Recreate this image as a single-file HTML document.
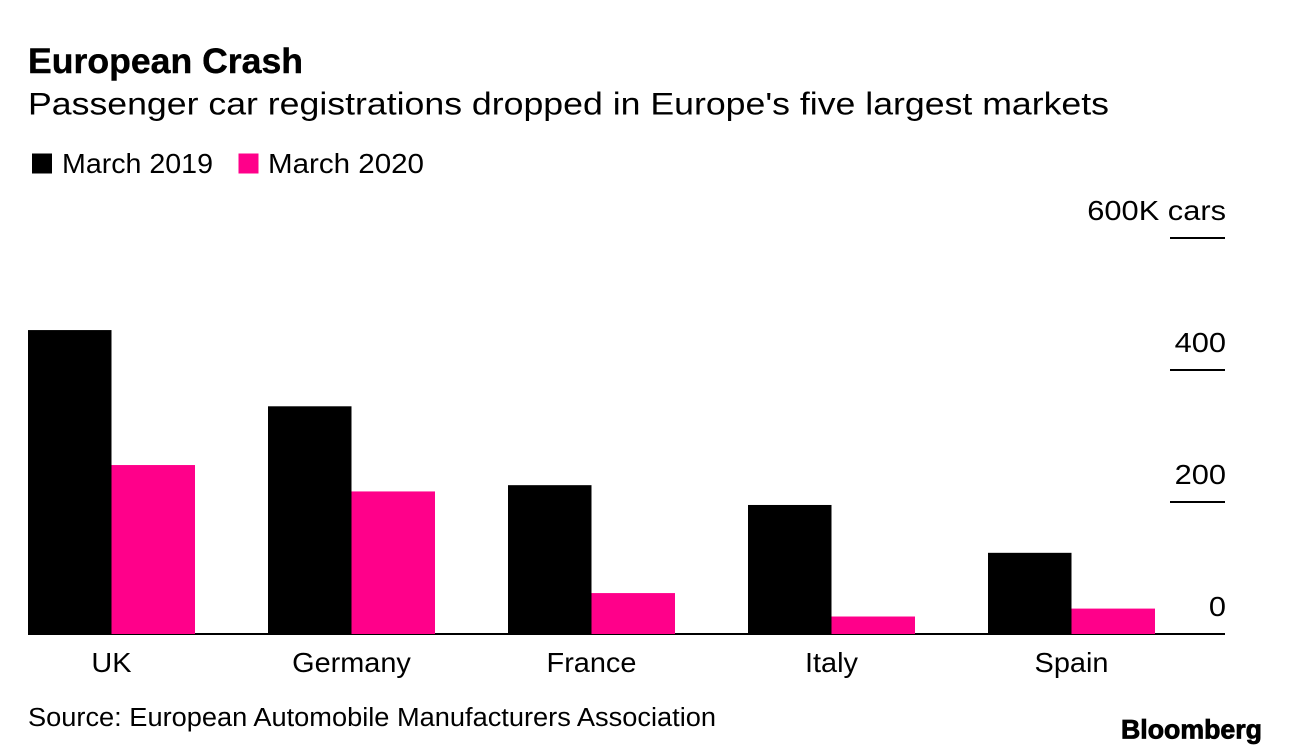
<!DOCTYPE html>
<html>
<head>
<meta charset="utf-8">
<style>
html,body{margin:0;padding:0;background:#fff;}
body{width:1289px;height:756px;overflow:hidden;position:relative;font-family:"Liberation Sans",sans-serif;color:#000;}
svg{position:absolute;left:0;top:0;}
text{font-family:"Liberation Sans",sans-serif;fill:#000;}
</style>
</head>
<body>
<svg id="chart" width="1289" height="756" viewBox="0 0 1289 756">
<text x="28" y="73" font-size="35" font-weight="700" stroke="#000" stroke-width="0.4" textLength="275" lengthAdjust="spacingAndGlyphs">European Crash</text>
<text x="28" y="114.5" font-size="31.5" textLength="1081" lengthAdjust="spacingAndGlyphs">Passenger car registrations dropped in Europe's five largest markets</text>
<rect x="32" y="153.5" width="20" height="20" fill="#000"/>
<text x="62" y="173" font-size="27.5" textLength="151" lengthAdjust="spacingAndGlyphs">March 2019</text>
<rect x="238.5" y="153.5" width="20" height="20" fill="#ff008a"/>
<text x="268" y="173" font-size="27.5" textLength="156" lengthAdjust="spacingAndGlyphs">March 2020</text>
<g id="grid"></g>
<g id="bars"></g>
<g id="labels"></g>
<text x="28" y="726" font-size="25.5" textLength="688" lengthAdjust="spacingAndGlyphs">Source: European Automobile Manufacturers Association</text>
<text x="1121" y="738.5" font-size="27" font-weight="700" stroke="#000" stroke-width="0.8" textLength="141" lengthAdjust="spacingAndGlyphs">Bloomberg</text>
</svg>
<script>
var categories = ["UK", "Germany", "France", "Italy", "Spain"];
var march2019 = [460.5, 345, 225.5, 195.5, 123];
var march2020 = [256, 216, 62, 26.5, 38.5];
var tickValues = [0, 200, 400, 600];
var tickLabels = ["0", "200", "400", "600K cars"];

var NS = "http://www.w3.org/2000/svg";
var plotBottom = 634, plotTop = 238, maxValue = 600;
function y(v){ return plotBottom - (v / maxValue) * (plotBottom - plotTop); }
function groupX(i){ return 28 + i * 240; }
var barW = 83.5;
var barsG = document.getElementById("bars");
var gridG = document.getElementById("grid");
var labelsG = document.getElementById("labels");

function makeBar(x, v, fill){
  var r = document.createElementNS(NS, "rect");
  r.setAttribute("x", x);
  r.setAttribute("y", y(v));
  r.setAttribute("width", barW);
  r.setAttribute("height", plotBottom - y(v));
  r.setAttribute("fill", fill);
  return r;
}

function widen(t, ratio){
  var w = t.getComputedTextLength();
  t.setAttribute("textLength", (w * ratio).toFixed(1));
  t.setAttribute("lengthAdjust", "spacingAndGlyphs");
}

categories.forEach(function(c, i){
  var a = makeBar(groupX(i), march2019[i], "#000");
  
  
  barsG.appendChild(a);
  var b = makeBar(groupX(i) + barW, march2020[i], "#ff008a");
  
  
  barsG.appendChild(b);
  var t = document.createElementNS(NS, "text");
  t.setAttribute("x", groupX(i) + barW);
  t.setAttribute("y", 672);
  t.setAttribute("font-size", "27.5");
  t.setAttribute("text-anchor", "middle");
  t.textContent = c;
  
  
  labelsG.appendChild(t);
  widen(t, 1.05);
});

tickValues.forEach(function(v, i){
  var l = document.createElementNS(NS, "rect");
  var zero = v === 0;
  l.setAttribute("x", zero ? 28 : 1170);
  l.setAttribute("y", y(v) - 1);
  l.setAttribute("width", zero ? 1197 : 55);
  l.setAttribute("height", 2);
  l.setAttribute("fill", "#000");
  
  
  gridG.appendChild(l);
  var t = document.createElementNS(NS, "text");
  t.setAttribute("x", 1226);
  t.setAttribute("y", y(v) - 18);
  t.setAttribute("font-size", "27.5");
  t.setAttribute("text-anchor", "end");
  t.textContent = tickLabels[i];
  
  
  labelsG.appendChild(t);
  widen(t, 1.12);
});
</script>
</body>
</html>
